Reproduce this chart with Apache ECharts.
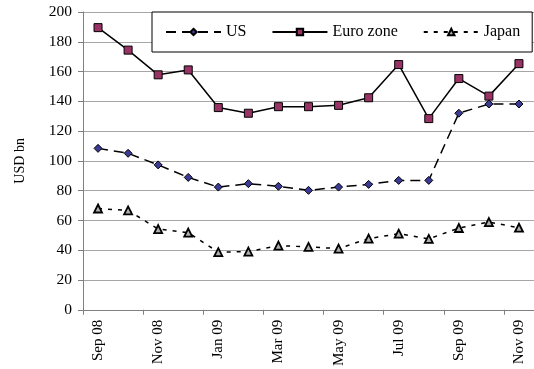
<!DOCTYPE html>
<html>
<head>
<meta charset="utf-8">
<script src="https://cdn.jsdelivr.net/npm/echarts@6/dist/echarts.min.js"></script>
<style>html,body{margin:0;padding:0;background:#fff}#c{width:534px;height:369px}</style>
</head>
<body>
<div id="c"></div>
<script>
var categories = ['Sep 08','Oct 08','Nov 08','Dec 08','Jan 09','Feb 09','Mar 09','Apr 09','May 09','Jun 09','Jul 09','Aug 09','Sep 09','Oct 09','Nov 09'];
var usValues = [108.4, 105.1, 97.3, 88.9, 82.4, 84.7, 82.9, 80.2, 82.4, 84.2, 86.9, 86.9, 132, 138.2, 138.2];
var euroValues = [189.5, 174.4, 157.8, 161.1, 135.8, 132, 136.4, 136.4, 137.3, 142.4, 164.7, 128.4, 155.3, 143.5, 165.3];
var japanValues = [68, 66.7, 54.2, 51.8, 38.7, 39.1, 43.1, 42.2, 41.1, 47.8, 51.1, 47.6, 54.9, 58.9, 55.1];
var yTicks = {min: 0, max: 200, interval: 20};
var FONT = '"Liberation Serif", "Times New Roman", serif';

var chart = echarts.init(document.getElementById('c'), null, {renderer: 'canvas'});
chart.setOption({
  animation: false,
  backgroundColor: '#fff',
  textStyle: {fontFamily: FONT},
  grid: {left: 83, top: 12, width: 454, bottom: 57, containLabel: false},
  legend: {
    left: 152, top: 12,
    orient: 'horizontal',
    padding: [12, 12, 12, 13],
    borderColor: '#000', borderWidth: 1,
    backgroundColor: '#fff',
    itemWidth: 55, itemHeight: 8,
    itemGap: 25,
    textStyle: {fontFamily: FONT, fontSize: 16, color: '#000'},
    data: ['US', 'Euro zone', 'Japan']
  },
  xAxis: {
    type: 'category',
    data: categories,
    boundaryGap: true,
    axisLine: {lineStyle: {color: '#808080', width: 1}},
    axisTick: {show: true, interval: 1, length: 5, lineStyle: {color: '#808080'}},
    axisLabel: {interval: 1, rotate: 90, fontFamily: FONT, fontSize: 15, color: '#000', margin: 10},
    splitLine: {show: false}
  },
  yAxis: {
    type: 'value',
    min: yTicks.min, max: yTicks.max, interval: yTicks.interval,
    name: 'USD bn', nameLocation: 'middle', nameGap: 56,
    nameTextStyle: {fontFamily: FONT, fontSize: 14, color: '#000'},
    axisLine: {show: true, lineStyle: {color: '#808080', width: 1}},
    axisTick: {show: true, inside: false, length: 5, lineStyle: {color: '#808080'}},
    axisLabel: {fontFamily: FONT, fontSize: 15.5, color: '#000', margin: 11},
    splitLine: {show: true, lineStyle: {color: '#a6a6a6', width: 1}}
  },
  series: [
    {
      name: 'US', type: 'line', data: usValues,
      symbol: 'diamond', symbolSize: 8,
      itemStyle: {color: '#3b3b96', borderColor: '#000', borderWidth: 1},
      lineStyle: {color: '#000', width: 1.5, type: [10, 6]},
      z: 3
    },
    {
      name: 'Euro zone', type: 'line', data: euroValues,
      symbol: 'rect', symbolSize: 8,
      itemStyle: {color: '#993366', borderColor: '#000', borderWidth: 1},
      lineStyle: {color: '#000', width: 1.5, type: 'solid'},
      z: 4
    },
    {
      name: 'Japan', type: 'line', data: japanValues,
      symbol: 'triangle', symbolSize: 8,
      itemStyle: {color: '#b0b0b0', borderColor: '#000', borderWidth: 1.8},
      lineStyle: {color: '#000', width: 1.5, type: [4, 6]},
      z: 3
    }
  ]
});
</script>
</body>
</html>
